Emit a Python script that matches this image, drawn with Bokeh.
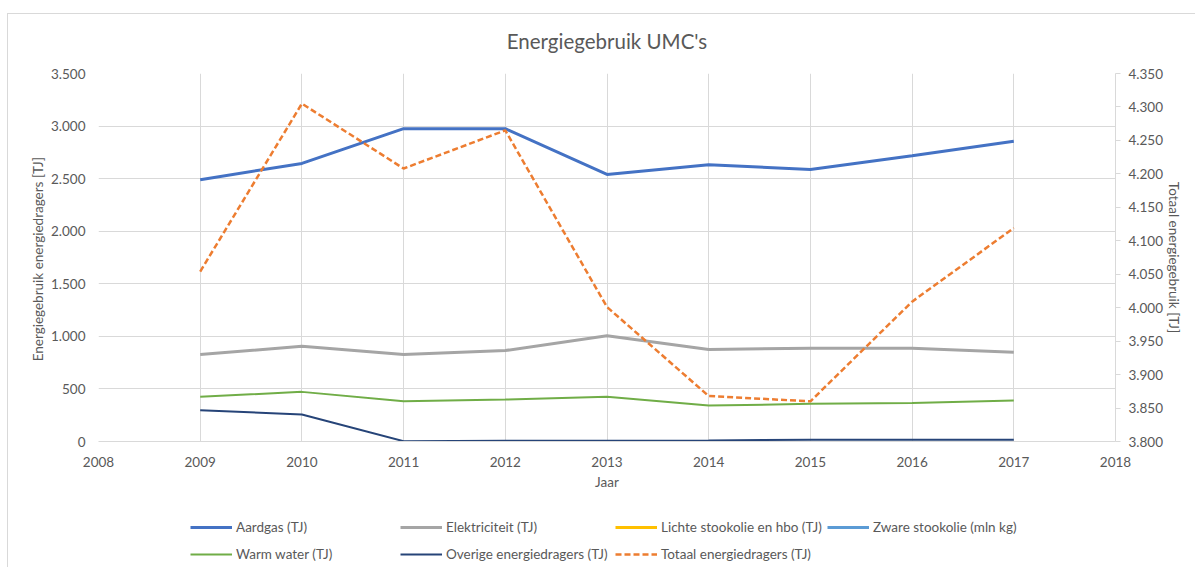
from bokeh.plotting import figure
from bokeh.models import Range1d, LinearAxis, FixedTicker, Legend, LegendItem, Label
from bokeh.layouts import column
from bokeh.embed import file_html
from bokeh.resources import INLINE

years = [2009, 2010, 2011, 2012, 2013, 2014, 2015, 2016, 2017]
aardgas = [2490, 2645, 2975, 2975, 2540, 2632, 2587, 2717, 2856]
elektriciteit = [827, 906, 827, 865, 1005, 875, 888, 888, 850]
lichte_stookolie = []
zware_stookolie = []
warm_water = [425, 472, 383, 399, 425, 342, 358, 365, 390]
overige = [298, 257, 3, 7, 7, 10, 16, 16, 16]
totaal = [4054, 4305, 4208, 4265, 4001, 3868, 3860, 4009, 4119]

x_ticks = list(range(2008, 2019))
left_ticks = list(range(0, 3501, 500))
right_ticks = list(range(3800, 4351, 50))

title_text = "Energiegebruik UMC's"
series_names = ["Aardgas (TJ)", "Elektriciteit (TJ)", "Lichte stookolie en hbo (TJ)",
                "Zware stookolie (mln kg)", "Warm water (TJ)",
                "Overige energiedragers (TJ)", "Totaal energiedragers (TJ)"]


def nl(v):
    return f"{v:,}".replace(",", ".")


FONT = "Lato"
TXT = "#595959"
GRID = "#d9d9d9"
FS = "13.5px"

styles = [
    dict(line_color="#4472C4", line_width=3),
    dict(line_color="#A5A5A5", line_width=3),
    dict(line_color="#FFC000", line_width=3),
    dict(line_color="#5B9BD5", line_width=3),
    dict(line_color="#70AD47", line_width=2),
    dict(line_color="#264478", line_width=2),
    dict(line_color="#ED7D31", line_width=2.5, line_dash="6 3"),
]

W = 1187
H0 = 44
H1 = 447
H2 = 62


def bare(h):
    f = figure(width=W, height=h, output_backend="svg", toolbar_location=None,
               x_range=Range1d(0, 1), y_range=Range1d(0, h),
               min_border_left=0, min_border_right=0, min_border_top=0,
               min_border_bottom=0, x_axis_location=None, y_axis_location=None)
    f.outline_line_color = None
    f.grid.visible = False
    return f


# title strip
tfig = bare(H0)
tfig.add_layout(Label(x=0.5, y=18, text=title_text, text_align="center",
                      text_baseline="middle", text_font=FONT,
                      text_font_size="20.5px", text_color=TXT))

# main chart
p = figure(width=W, height=H1, output_backend="svg", toolbar_location=None,
           x_range=Range1d(2008, 2018), y_range=Range1d(0, 3500),
           min_border_left=90, min_border_right=80, min_border_top=15,
           min_border_bottom=64)
p.extra_y_ranges = {"tot": Range1d(3800, 4350)}
p.outline_line_color = None
p.border_fill_color = "white"

xa = p.xaxis[0]
xa.ticker = FixedTicker(ticks=x_ticks)
xa.axis_label = "Jaar"
xa.axis_line_color = GRID
xa.major_tick_line_color = None
xa.minor_tick_line_color = None
xa.major_label_standoff = 9
xa.axis_label_standoff = 4

ya = p.yaxis[0]
ya.ticker = FixedTicker(ticks=left_ticks)
ya.major_label_overrides = {v: nl(v) for v in left_ticks}
ya.axis_label = "Energiegebruik energiedragers  [TJ]"
ya.axis_line_color = None
ya.major_tick_line_color = None
ya.major_tick_out = 0
ya.major_tick_in = 0
ya.minor_tick_line_color = None
ya.major_label_standoff = 13
ya.axis_label_standoff = 2

ra = LinearAxis(y_range_name="tot", ticker=FixedTicker(ticks=right_ticks))
ra.major_label_overrides = {v: nl(v) for v in right_ticks}
ra.axis_label = "Totaal energiegebruik [TJ]"
ra.axis_line_color = GRID
ra.major_tick_line_color = GRID
ra.major_tick_out = 5
ra.major_tick_in = 0
ra.minor_tick_line_color = None
ra.major_label_standoff = 8
ra.axis_label_standoff = 0
p.add_layout(ra, "right")

for ax in (xa, ya, ra):
    ax.major_label_text_font = FONT
    ax.major_label_text_font_size = FS
    ax.major_label_text_color = TXT
    ax.axis_label_text_font = FONT
    ax.axis_label_text_font_size = FS
    ax.axis_label_text_font_style = "normal"
    ax.axis_label_text_color = TXT

p.xgrid.ticker = FixedTicker(ticks=x_ticks)
p.ygrid.ticker = FixedTicker(ticks=left_ticks)
p.xgrid.grid_line_color = GRID
p.ygrid.grid_line_color = GRID

data = [aardgas, elektriciteit, lichte_stookolie, zware_stookolie,
        warm_water, overige, totaal]
for vals, st in zip(data[:6], styles[:6]):
    p.line(years[:len(vals)], vals, **st)
p.line(years, totaal, y_range_name="tot", **styles[6])

# legend strip below the chart (its lines lie outside its own ranges;
# series without data get a single NaN point so their swatch is drawn)
lg_fig = bare(H2)
positions = [(92, 32), (302, 32), (517, 32), (729, 32),
             (92, 5), (302, 5), (517, 5)]
for name, vals, st, (lx, ly) in zip(series_names, data, styles, positions):
    if len(vals):
        r = lg_fig.line(years[:len(vals)], vals, **st)
    else:
        r = lg_fig.line([years[0]], [float("nan")], **st)
    lg = Legend(items=[LegendItem(label=name, renderers=[r])],
                location=(lx, ly), orientation="horizontal",
                padding=0, margin=0, spacing=0,
                glyph_width=42, glyph_height=16, label_height=16,
                label_standoff=4, border_line_color=None,
                background_fill_alpha=0,
                label_text_font=FONT, label_text_font_size=FS,
                label_text_color=TXT)
    lg_fig.add_layout(lg, "center")

layout = column(tfig, p, lg_fig, spacing=0, margin=(13, 0, 0, 7),
                styles={"border-top": "1px solid #d9d9d9",
                        "border-left": "1px solid #d9d9d9"})

open("out.html", "w").write(file_html(layout, INLINE))
